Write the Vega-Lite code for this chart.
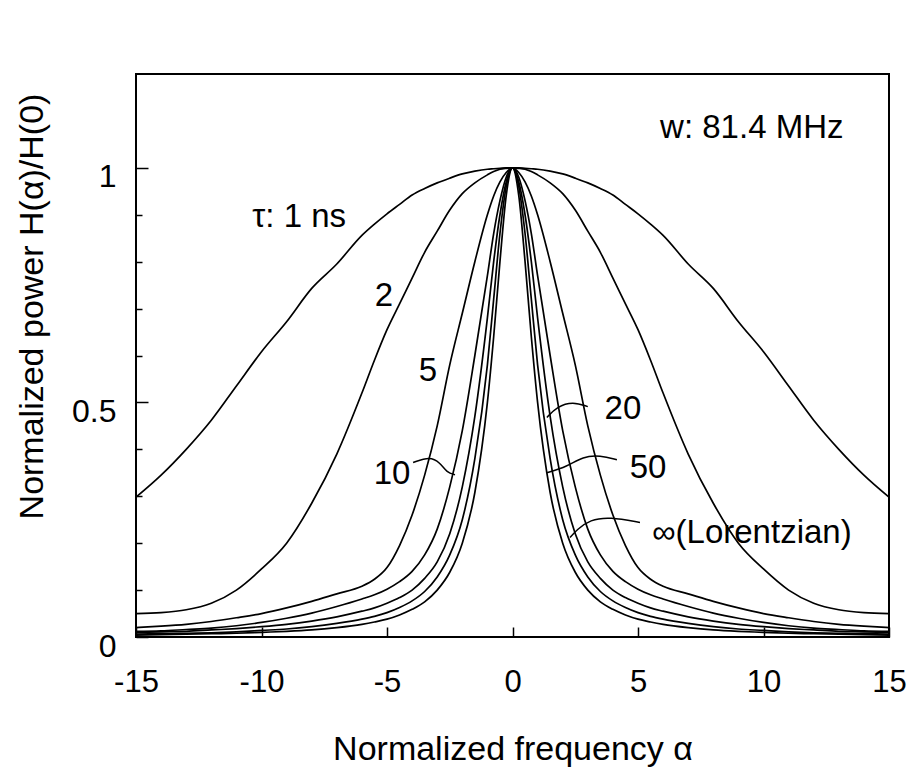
{
  "$schema": "https://vega.github.io/schema/vega-lite/v6.json",
  "width": 753,
  "height": 563,
  "autosize": "none",
  "padding": {"left": 136, "top": 74, "right": 25, "bottom": 139},
  "background": "white",
  "config": {
    "view": {"stroke": "black", "strokeWidth": 2},
    "font": "Liberation Sans",
    "axis": {"labelColor": "black", "titleColor": "black", "tickColor": "black", "tickWidth": 1.5, "grid": false, "domain": false, "labelFont": "Liberation Sans", "titleFont": "Liberation Sans", "titleFontWeight": "normal"}
  },
  "encoding": {
    "x": {
      "field": "a", "type": "quantitative",
      "scale": {"domain": [-15, 15], "nice": false, "zero": false},
      "axis": {
        "values": [-15, -10, -5, 0, 5, 10, 15],
        "tickSize": -10,
        "labelPadding": 40,
        "labelFontSize": 31,
        "labelFlush": false,
        "labelOverlap": false,
        "labelExpr": "datum.value < 0 ? '-' + abs(datum.value) : '' + datum.value",
        "title": "Normalized frequency α",
        "titleFontSize": 34,
        "titleY": 122,
        "titleBaseline": "alphabetic"
      }
    },
    "y": {
      "field": "v", "type": "quantitative",
      "scale": {"domain": [0, 1.2], "nice": false},
      "axis": {"orient": "left", "values": [0.1, 0.2, 0.3, 0.4, 0.6, 0.7, 0.8, 0.9], "tickSize": -6, "labels": false, "title": null}
    }
  },
  "layer": [
    {
      "data": {"values": [
        {"t":"1","a":-15,"v":0.298},{"t":"1","a":-14,"v":0.345},{"t":"1","a":-13,"v":0.4},{"t":"1","a":-12,"v":0.462},{"t":"1","a":-11,"v":0.535},{"t":"1","a":-10,"v":0.608},{"t":"1","a":-9,"v":0.672},{"t":"1","a":-8,"v":0.743},{"t":"1","a":-7,"v":0.795},{"t":"1","a":-6,"v":0.856},{"t":"1","a":-5.5,"v":0.88},{"t":"1","a":-5,"v":0.902},{"t":"1","a":-4.5,"v":0.922},{"t":"1","a":-4,"v":0.942},{"t":"1","a":-3.5,"v":0.956},{"t":"1","a":-3,"v":0.968},{"t":"1","a":-2.5,"v":0.978},{"t":"1","a":-2,"v":0.987},{"t":"1","a":-1.5,"v":0.993},{"t":"1","a":-1,"v":0.997},{"t":"1","a":-0.75,"v":0.998},{"t":"1","a":-0.5,"v":0.999},{"t":"1","a":-0.25,"v":1},{"t":"1","a":0,"v":1},{"t":"1","a":0.25,"v":1},{"t":"1","a":0.5,"v":0.999},{"t":"1","a":0.75,"v":0.998},{"t":"1","a":1,"v":0.997},{"t":"1","a":1.5,"v":0.993},{"t":"1","a":2,"v":0.987},{"t":"1","a":2.5,"v":0.978},{"t":"1","a":3,"v":0.968},{"t":"1","a":3.5,"v":0.956},{"t":"1","a":4,"v":0.942},{"t":"1","a":4.5,"v":0.922},{"t":"1","a":5,"v":0.902},{"t":"1","a":5.5,"v":0.88},{"t":"1","a":6,"v":0.856},{"t":"1","a":7,"v":0.795},{"t":"1","a":8,"v":0.743},{"t":"1","a":9,"v":0.672},{"t":"1","a":10,"v":0.608},{"t":"1","a":11,"v":0.535},{"t":"1","a":12,"v":0.462},{"t":"1","a":13,"v":0.4},{"t":"1","a":14,"v":0.345},{"t":"1","a":15,"v":0.298},

        {"t":"2","a":-15,"v":0.05},{"t":"2","a":-14,"v":0.052},{"t":"2","a":-13,"v":0.058},{"t":"2","a":-12,"v":0.072},{"t":"2","a":-11,"v":0.1},{"t":"2","a":-10,"v":0.145},{"t":"2","a":-9,"v":0.2},{"t":"2","a":-8,"v":0.285},{"t":"2","a":-7,"v":0.39},{"t":"2","a":-6,"v":0.52},{"t":"2","a":-5.5,"v":0.59},{"t":"2","a":-5,"v":0.655},{"t":"2","a":-4.5,"v":0.71},{"t":"2","a":-4,"v":0.765},{"t":"2","a":-3.5,"v":0.82},{"t":"2","a":-3,"v":0.865},{"t":"2","a":-2.5,"v":0.91},{"t":"2","a":-2,"v":0.945},{"t":"2","a":-1.5,"v":0.968},{"t":"2","a":-1,"v":0.985},{"t":"2","a":-0.75,"v":0.992},{"t":"2","a":-0.5,"v":0.997},{"t":"2","a":-0.25,"v":0.999},{"t":"2","a":0,"v":1},{"t":"2","a":0.25,"v":0.999},{"t":"2","a":0.5,"v":0.997},{"t":"2","a":0.75,"v":0.992},{"t":"2","a":1,"v":0.985},{"t":"2","a":1.5,"v":0.968},{"t":"2","a":2,"v":0.945},{"t":"2","a":2.5,"v":0.91},{"t":"2","a":3,"v":0.865},{"t":"2","a":3.5,"v":0.82},{"t":"2","a":4,"v":0.765},{"t":"2","a":4.5,"v":0.71},{"t":"2","a":5,"v":0.655},{"t":"2","a":5.5,"v":0.59},{"t":"2","a":6,"v":0.52},{"t":"2","a":7,"v":0.39},{"t":"2","a":8,"v":0.285},{"t":"2","a":9,"v":0.2},{"t":"2","a":10,"v":0.145},{"t":"2","a":11,"v":0.1},{"t":"2","a":12,"v":0.072},{"t":"2","a":13,"v":0.058},{"t":"2","a":14,"v":0.052},{"t":"2","a":15,"v":0.05},

        {"t":"5","a":-15,"v":0.02},{"t":"5","a":-14,"v":0.023},{"t":"5","a":-13,"v":0.027},{"t":"5","a":-12,"v":0.033},{"t":"5","a":-11,"v":0.041},{"t":"5","a":-10,"v":0.05},{"t":"5","a":-9,"v":0.062},{"t":"5","a":-8,"v":0.076},{"t":"5","a":-7,"v":0.092},{"t":"5","a":-6,"v":0.108},{"t":"5","a":-5.5,"v":0.123},{"t":"5","a":-5,"v":0.148},{"t":"5","a":-4.5,"v":0.195},{"t":"5","a":-4,"v":0.26},{"t":"5","a":-3.5,"v":0.345},{"t":"5","a":-3,"v":0.45},{"t":"5","a":-2.5,"v":0.58},{"t":"5","a":-2,"v":0.69},{"t":"5","a":-1.5,"v":0.8},{"t":"5","a":-1,"v":0.9},{"t":"5","a":-0.75,"v":0.94},{"t":"5","a":-0.5,"v":0.97},{"t":"5","a":-0.25,"v":0.99},{"t":"5","a":0,"v":1},{"t":"5","a":0.25,"v":0.99},{"t":"5","a":0.5,"v":0.97},{"t":"5","a":0.75,"v":0.94},{"t":"5","a":1,"v":0.9},{"t":"5","a":1.5,"v":0.8},{"t":"5","a":2,"v":0.69},{"t":"5","a":2.5,"v":0.58},{"t":"5","a":3,"v":0.45},{"t":"5","a":3.5,"v":0.345},{"t":"5","a":4,"v":0.26},{"t":"5","a":4.5,"v":0.195},{"t":"5","a":5,"v":0.148},{"t":"5","a":5.5,"v":0.123},{"t":"5","a":6,"v":0.108},{"t":"5","a":7,"v":0.092},{"t":"5","a":8,"v":0.076},{"t":"5","a":9,"v":0.062},{"t":"5","a":10,"v":0.05},{"t":"5","a":11,"v":0.041},{"t":"5","a":12,"v":0.033},{"t":"5","a":13,"v":0.027},{"t":"5","a":14,"v":0.023},{"t":"5","a":15,"v":0.02},

        {"t":"10","a":-15,"v":0.012},{"t":"10","a":-14,"v":0.013},{"t":"10","a":-13,"v":0.016},{"t":"10","a":-12,"v":0.019},{"t":"10","a":-11,"v":0.024},{"t":"10","a":-10,"v":0.031},{"t":"10","a":-9,"v":0.04},{"t":"10","a":-8,"v":0.051},{"t":"10","a":-7,"v":0.065},{"t":"10","a":-6,"v":0.081},{"t":"10","a":-5.5,"v":0.09},{"t":"10","a":-5,"v":0.102},{"t":"10","a":-4.5,"v":0.118},{"t":"10","a":-4,"v":0.14},{"t":"10","a":-3.5,"v":0.175},{"t":"10","a":-3,"v":0.23},{"t":"10","a":-2.5,"v":0.32},{"t":"10","a":-2,"v":0.44},{"t":"10","a":-1.5,"v":0.6},{"t":"10","a":-1,"v":0.77},{"t":"10","a":-0.75,"v":0.86},{"t":"10","a":-0.5,"v":0.93},{"t":"10","a":-0.25,"v":0.98},{"t":"10","a":0,"v":1},{"t":"10","a":0.25,"v":0.98},{"t":"10","a":0.5,"v":0.93},{"t":"10","a":0.75,"v":0.86},{"t":"10","a":1,"v":0.77},{"t":"10","a":1.5,"v":0.6},{"t":"10","a":2,"v":0.44},{"t":"10","a":2.5,"v":0.32},{"t":"10","a":3,"v":0.23},{"t":"10","a":3.5,"v":0.175},{"t":"10","a":4,"v":0.14},{"t":"10","a":4.5,"v":0.118},{"t":"10","a":5,"v":0.102},{"t":"10","a":5.5,"v":0.09},{"t":"10","a":6,"v":0.081},{"t":"10","a":7,"v":0.065},{"t":"10","a":8,"v":0.051},{"t":"10","a":9,"v":0.04},{"t":"10","a":10,"v":0.031},{"t":"10","a":11,"v":0.024},{"t":"10","a":12,"v":0.019},{"t":"10","a":13,"v":0.016},{"t":"10","a":14,"v":0.013},{"t":"10","a":15,"v":0.012},

        {"t":"20","a":-15,"v":0.01},{"t":"20","a":-14,"v":0.011},{"t":"20","a":-13,"v":0.012},{"t":"20","a":-12,"v":0.015},{"t":"20","a":-11,"v":0.018},{"t":"20","a":-10,"v":0.022},{"t":"20","a":-9,"v":0.027},{"t":"20","a":-8,"v":0.034},{"t":"20","a":-7,"v":0.043},{"t":"20","a":-6,"v":0.055},{"t":"20","a":-5.5,"v":0.062},{"t":"20","a":-5,"v":0.072},{"t":"20","a":-4.5,"v":0.084},{"t":"20","a":-4,"v":0.1},{"t":"20","a":-3.5,"v":0.125},{"t":"20","a":-3,"v":0.16},{"t":"20","a":-2.5,"v":0.22},{"t":"20","a":-2,"v":0.32},{"t":"20","a":-1.5,"v":0.47},{"t":"20","a":-1,"v":0.68},{"t":"20","a":-0.75,"v":0.8},{"t":"20","a":-0.5,"v":0.9},{"t":"20","a":-0.25,"v":0.97},{"t":"20","a":0,"v":1},{"t":"20","a":0.25,"v":0.97},{"t":"20","a":0.5,"v":0.9},{"t":"20","a":0.75,"v":0.8},{"t":"20","a":1,"v":0.68},{"t":"20","a":1.5,"v":0.47},{"t":"20","a":2,"v":0.32},{"t":"20","a":2.5,"v":0.22},{"t":"20","a":3,"v":0.16},{"t":"20","a":3.5,"v":0.125},{"t":"20","a":4,"v":0.1},{"t":"20","a":4.5,"v":0.084},{"t":"20","a":5,"v":0.072},{"t":"20","a":5.5,"v":0.062},{"t":"20","a":6,"v":0.055},{"t":"20","a":7,"v":0.043},{"t":"20","a":8,"v":0.034},{"t":"20","a":9,"v":0.027},{"t":"20","a":10,"v":0.022},{"t":"20","a":11,"v":0.018},{"t":"20","a":12,"v":0.015},{"t":"20","a":13,"v":0.012},{"t":"20","a":14,"v":0.011},{"t":"20","a":15,"v":0.01},

        {"t":"50","a":-15,"v":0.006},{"t":"50","a":-14,"v":0.007},{"t":"50","a":-13,"v":0.008},{"t":"50","a":-12,"v":0.009},{"t":"50","a":-11,"v":0.011},{"t":"50","a":-10,"v":0.014},{"t":"50","a":-9,"v":0.017},{"t":"50","a":-8,"v":0.022},{"t":"50","a":-7,"v":0.029},{"t":"50","a":-6,"v":0.038},{"t":"50","a":-5.5,"v":0.044},{"t":"50","a":-5,"v":0.052},{"t":"50","a":-4.5,"v":0.063},{"t":"50","a":-4,"v":0.077},{"t":"50","a":-3.5,"v":0.097},{"t":"50","a":-3,"v":0.128},{"t":"50","a":-2.5,"v":0.175},{"t":"50","a":-2,"v":0.25},{"t":"50","a":-1.5,"v":0.38},{"t":"50","a":-1,"v":0.58},{"t":"50","a":-0.75,"v":0.72},{"t":"50","a":-0.5,"v":0.86},{"t":"50","a":-0.25,"v":0.96},{"t":"50","a":0,"v":1},{"t":"50","a":0.25,"v":0.96},{"t":"50","a":0.5,"v":0.86},{"t":"50","a":0.75,"v":0.72},{"t":"50","a":1,"v":0.58},{"t":"50","a":1.5,"v":0.38},{"t":"50","a":2,"v":0.25},{"t":"50","a":2.5,"v":0.175},{"t":"50","a":3,"v":0.128},{"t":"50","a":3.5,"v":0.097},{"t":"50","a":4,"v":0.077},{"t":"50","a":4.5,"v":0.063},{"t":"50","a":5,"v":0.052},{"t":"50","a":5.5,"v":0.044},{"t":"50","a":6,"v":0.038},{"t":"50","a":7,"v":0.029},{"t":"50","a":8,"v":0.022},{"t":"50","a":9,"v":0.017},{"t":"50","a":10,"v":0.014},{"t":"50","a":11,"v":0.011},{"t":"50","a":12,"v":0.009},{"t":"50","a":13,"v":0.008},{"t":"50","a":14,"v":0.007},{"t":"50","a":15,"v":0.006},

        {"t":"inf","a":-15,"v":0.004},{"t":"inf","a":-14,"v":0.005},{"t":"inf","a":-13,"v":0.006},{"t":"inf","a":-12,"v":0.007},{"t":"inf","a":-11,"v":0.008},{"t":"inf","a":-10,"v":0.01},{"t":"inf","a":-9,"v":0.012},{"t":"inf","a":-8,"v":0.015},{"t":"inf","a":-7,"v":0.02},{"t":"inf","a":-6,"v":0.027},{"t":"inf","a":-5.5,"v":0.032},{"t":"inf","a":-5,"v":0.038},{"t":"inf","a":-4.5,"v":0.047},{"t":"inf","a":-4,"v":0.059},{"t":"inf","a":-3.5,"v":0.075},{"t":"inf","a":-3,"v":0.1},{"t":"inf","a":-2.5,"v":0.138},{"t":"inf","a":-2,"v":0.2},{"t":"inf","a":-1.5,"v":0.308},{"t":"inf","a":-1,"v":0.5},{"t":"inf","a":-0.75,"v":0.64},{"t":"inf","a":-0.5,"v":0.8},{"t":"inf","a":-0.25,"v":0.941},{"t":"inf","a":0,"v":1},{"t":"inf","a":0.25,"v":0.941},{"t":"inf","a":0.5,"v":0.8},{"t":"inf","a":0.75,"v":0.64},{"t":"inf","a":1,"v":0.5},{"t":"inf","a":1.5,"v":0.308},{"t":"inf","a":2,"v":0.2},{"t":"inf","a":2.5,"v":0.138},{"t":"inf","a":3,"v":0.1},{"t":"inf","a":3.5,"v":0.075},{"t":"inf","a":4,"v":0.059},{"t":"inf","a":4.5,"v":0.047},{"t":"inf","a":5,"v":0.038},{"t":"inf","a":5.5,"v":0.032},{"t":"inf","a":6,"v":0.027},{"t":"inf","a":7,"v":0.02},{"t":"inf","a":8,"v":0.015},{"t":"inf","a":9,"v":0.012},{"t":"inf","a":10,"v":0.01},{"t":"inf","a":11,"v":0.008},{"t":"inf","a":12,"v":0.007},{"t":"inf","a":13,"v":0.006},{"t":"inf","a":14,"v":0.005},{"t":"inf","a":15,"v":0.004}
      ]},
      "mark": {"type": "line", "color": "black", "strokeWidth": 1.7, "interpolate": "monotone"},
      "encoding": {"detail": {"field": "t"}}
    },
    {
      "data": {"values": [
        {"g":"10","o":1,"a":-3.96,"v":0.372},{"g":"10","o":2,"a":-3.29,"v":0.385},{"g":"10","o":3,"a":-2.89,"v":0.372},{"g":"10","o":4,"a":-2.61,"v":0.35},{"g":"10","o":5,"a":-2.29,"v":0.346},
        {"g":"20","o":1,"a":3.0,"v":0.491},{"g":"20","o":2,"a":2.41,"v":0.502},{"g":"20","o":3,"a":1.77,"v":0.491},{"g":"20","o":4,"a":1.37,"v":0.468},
        {"g":"50","o":1,"a":4.16,"v":0.378},{"g":"50","o":2,"a":3.49,"v":0.387},{"g":"50","o":3,"a":2.81,"v":0.385},{"g":"50","o":4,"a":2.17,"v":0.363},{"g":"50","o":5,"a":1.37,"v":0.35},
        {"g":"inf","o":1,"a":5.08,"v":0.244},{"g":"inf","o":2,"a":3.88,"v":0.256},{"g":"inf","o":3,"a":3.09,"v":0.25},{"g":"inf","o":4,"a":2.57,"v":0.229},{"g":"inf","o":5,"a":2.29,"v":0.212}
      ]},
      "mark": {"type": "line", "color": "black", "strokeWidth": 1.5, "interpolate": "basis"},
      "encoding": {
        "y": {
          "field": "v", "type": "quantitative",
          "axis": {"orient": "left", "values": [0, 0.5, 1], "labelExpr": "'' + datum.value", "tickSize": -12, "labelPadding": 32, "labelFontSize": 32, "labelOffset": 9, "title": "Normalized power H(α)/H(0)", "titleFontSize": 34, "titleAngle": -90, "titleX": -104, "titleY": 232, "titleAlign": "center", "titleBaseline": "middle"}
        },
        "detail": {"field": "g"},
        "order": {"field": "o"}
      }
    },
    {
      "data": {"values": [
        {"label": "τ: 1 ns", "a": -8.5, "v": 0.895},
        {"label": "2", "a": -5.12, "v": 0.726},
        {"label": "5", "a": -3.37, "v": 0.568},
        {"label": "10", "a": -4.8, "v": 0.348},
        {"label": "20", "a": 4.4, "v": 0.487},
        {"label": "50", "a": 5.4, "v": 0.361}
      ]},
      "mark": {"type": "text", "fontSize": 33, "color": "black", "align": "center", "baseline": "middle"},
      "encoding": {"y": {"field": "v", "type": "quantitative", "axis": null}, "text": {"field": "label"}}
    },
    {
      "data": {"values": [
        {"label": "∞(Lorentzian)", "a": 5.56, "v": 0.222},
        {"label": "w: 81.4 MHz", "a": 5.88, "v": 1.085}
      ]},
      "mark": {"type": "text", "fontSize": 33, "color": "black", "align": "left", "baseline": "middle"},
      "encoding": {"y": {"field": "v", "type": "quantitative", "axis": null}, "text": {"field": "label"}}
    }
  ],
  "resolve": {"axis": {"y": "independent"}}
}
